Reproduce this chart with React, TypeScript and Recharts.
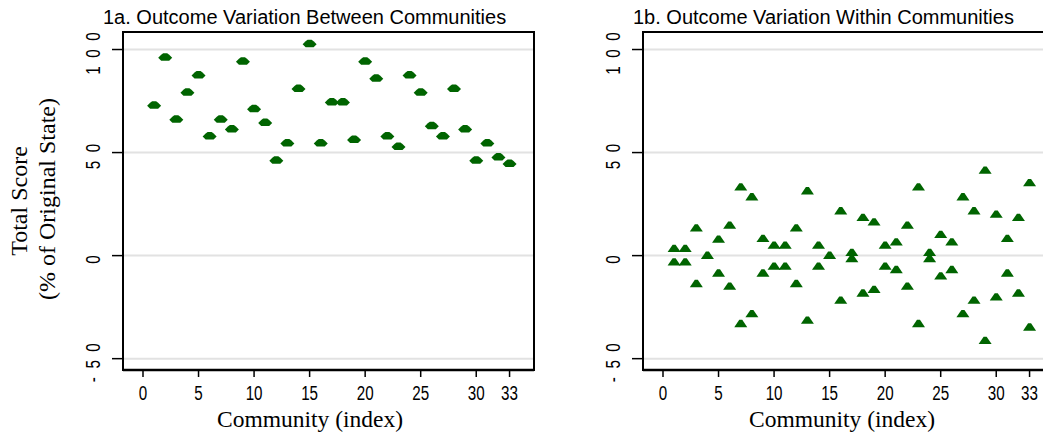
import React from 'react';
import { ScatterChart, Scatter, XAxis, YAxis, CartesianGrid, ReferenceArea } from 'recharts';

const communities = [1, 2, 3, 4, 5, 6, 7, 8, 9, 10, 11, 12, 13, 14, 15, 16, 17, 18, 19, 20, 21, 22, 23, 24, 25, 26, 27, 28, 29, 30, 31, 32, 33];
const betweenScores = [72.9, 96.2, 66.2, 79.3, 87.6, 58.0, 66.2, 61.4, 94.3, 71.2, 64.6, 46.3, 54.6, 81.1, 102.8, 54.6, 74.5, 74.5, 56.4, 94.3, 86.0, 58.0, 53.0, 87.6, 79.3, 63.0, 58.0, 81.1, 61.4, 46.3, 54.6, 47.9, 44.7];
const withinHigh = [3.4, 3.4, 13.4, 0.1, 7.9, 14.7, 33.3, 28.5, 8.3, 5.0, 5.0, 13.4, 31.4, 5.0, 0.1, 21.7, 1.5, 18.5, 16.3, 5.0, 6.6, 14.7, 33.3, 1.5, 10.2, 6.6, 28.5, 21.7, 41.4, 20.1, 8.3, 18.5, 35.3];
const withinLow: (number | null)[] = [-3.1, -3.1, -13.6, null, -8.5, -14.9, -33.0, -28.2, -8.5, -5.2, -5.2, -13.6, -31.4, -5.2, null, -21.7, -1.5, -18.2, -16.5, -5.2, -6.8, -14.9, -33.0, -1.5, -9.9, -6.8, -28.2, -21.7, -41.2, -20.1, -8.5, -18.2, -34.7];

const xTicks = [0, 5, 10, 15, 20, 25, 30, 33];
const yTicks = [-50, 0, 50, 100];
const yTickLabels = ['- 5 0', '0', '5 0', '1 0 0'];

const panelTitles = ['1a. Outcome Variation Between Communities', '1b. Outcome Variation Within Communities'];
const xTitle = 'Community (index)';
const yTitleLines = ['Total Score', '(% of Original State)'];

const GREEN = '#006400';
const X_DOMAIN: [number, number] = [-1.8, 35.2];
const Y_DOMAIN: [number, number] = [-55.5, 108.5];
const SANS = '"Liberation Sans", Arial, sans-serif';
const SERIF = '"Liberation Serif", "Times New Roman", serif';

const betweenData = communities.map((c, i) => ({ x: c, y: betweenScores[i] }));
const withinData = [
  ...communities.map((c, i) => ({ x: c, y: withinHigh[i] })),
  ...communities
    .map((c, i) => ({ x: c, y: withinLow[i] }))
    .filter((d) => d.y !== null),
];

const XTick = (props: any) => {
  const { x, payload } = props;
  return (
    <text
      transform={`translate(${x},399.5) scale(0.95,1.32)`}
      textAnchor="middle"
      fontFamily={SANS}
      fontSize={16}
      fill="#000"
    >
      {payload.value}
    </text>
  );
};

const YTick = (props: any) => {
  const { y, payload } = props;
  const idx = yTicks.indexOf(payload.value);
  return (
    <text
      transform={`translate(99.5,${y + 4}) rotate(-90) scale(0.95,1.32)`}
      textAnchor="middle"
      fontFamily={SANS}
      fontSize={16}
      fill="#000"
      style={{ whiteSpace: 'pre', wordSpacing: '4.5px' }}
    >
      {idx >= 0 ? yTickLabels[idx] : String(payload.value)}
    </text>
  );
};

const Blob = (props: any) => {
  const { cx, cy } = props;
  if (cx == null || cy == null) return <g />;
  const d = `M${cx - 7},${cy + 0.5} L${cx - 4},${cy - 2.5} L${cx - 2},${cy - 4} L${cx + 2},${cy - 4} L${cx + 4},${cy - 2.5} L${cx + 7},${cy + 0.5} L${cx + 4},${cy + 3.5} L${cx - 4},${cy + 3.5} Z`;
  return <path d={d} fill={GREEN} />;
};

const Tri = (props: any) => {
  const { cx, cy } = props;
  if (cx == null || cy == null) return <g />;
  const d = `M${cx - 6.5},${cy + 3.5} L${cx - 1.5},${cy - 3.8} L${cx + 1.5},${cy - 3.8} L${cx + 6.5},${cy + 3.5} Z`;
  return <path d={d} fill={GREEN} />;
};

const Panel = ({ data, shape }: { data: { x: number; y: number | null }[]; shape: any }) => (
  <ScatterChart width={560} height={437} margin={{ top: 32, right: 26, bottom: 0, left: 0 }}>
    <CartesianGrid horizontal vertical={false} stroke="#e2e2e2" strokeWidth={2} />
    <XAxis
      type="number"
      dataKey="x"
      domain={X_DOMAIN}
      ticks={xTicks}
      interval={0}
      allowDataOverflow
      height={67}
      tickSize={7}
      tick={XTick}
      axisLine={{ stroke: '#000', strokeWidth: 2.5 }}
      tickLine={{ stroke: '#000', strokeWidth: 1.5 }}
    />
    <YAxis
      type="number"
      dataKey="y"
      domain={Y_DOMAIN}
      ticks={yTicks}
      interval={0}
      allowDataOverflow
      width={123}
      tickSize={11}
      tick={YTick}
      axisLine={{ stroke: '#000', strokeWidth: 2 }}
      tickLine={{ stroke: '#000', strokeWidth: 1.5 }}
    />
    <ReferenceArea
      x1={X_DOMAIN[0]}
      x2={X_DOMAIN[1]}
      y1={Y_DOMAIN[0]}
      y2={Y_DOMAIN[1]}
      fill="none"
      fillOpacity={0}
      stroke="#000"
      strokeWidth={2}
      ifOverflow="visible"
    />
    <Scatter data={data} shape={shape} isAnimationActive={false} />
  </ScatterChart>
);

export default function App() {
  return (
    <div
      style={{
        position: 'fixed',
        left: 0,
        top: 0,
        width: 1043,
        height: 437,
        overflow: 'hidden',
        background: '#fff',
      }}
    >
      <div style={{ position: 'absolute', left: 0, top: 0 }}>
        <Panel data={betweenData} shape={Blob} />
      </div>
      <div style={{ position: 'absolute', left: 520, top: 0 }}>
        <Panel data={withinData} shape={Tri} />
      </div>
      <svg
        width={1043}
        height={437}
        style={{ position: 'absolute', left: 0, top: 0, pointerEvents: 'none' }}
      >
        <text x={103} y={23.5} fontFamily={SANS} fontSize={20} fill="#000">
          {panelTitles[0]}
        </text>
        <text x={633} y={23.5} fontFamily={SANS} fontSize={20} fill="#000">
          {panelTitles[1]}
        </text>
        <text x={310} y={427} textAnchor="middle" fontFamily={SERIF} fontSize={23.5} fill="#000">
          {xTitle}
        </text>
        <text x={842} y={427} textAnchor="middle" fontFamily={SERIF} fontSize={23.5} fill="#000">
          {xTitle}
        </text>
        <text transform="translate(27,201) rotate(-90)" textAnchor="middle" fontFamily={SERIF} fontSize={24} fill="#000">
          {yTitleLines[0]}
        </text>
        <text transform="translate(55,199) rotate(-90)" textAnchor="middle" fontFamily={SERIF} fontSize={24} fill="#000">
          {yTitleLines[1]}
        </text>
      </svg>
    </div>
  );
}
